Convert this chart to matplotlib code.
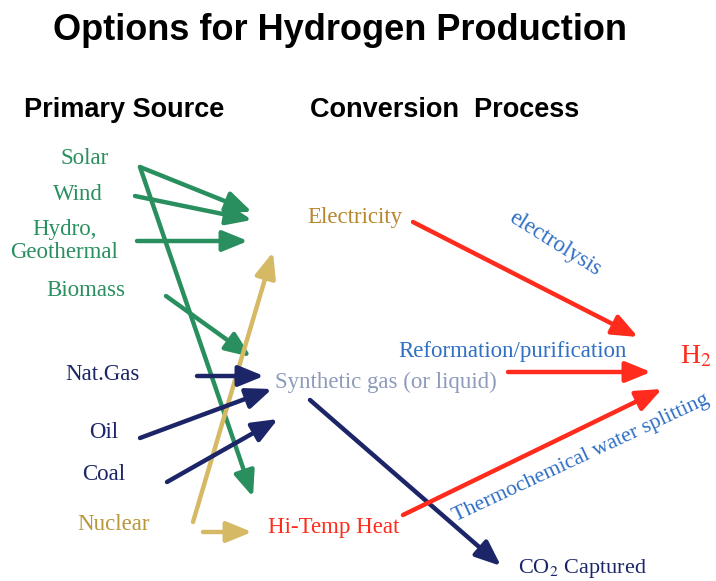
import matplotlib
matplotlib.use("Agg")
import matplotlib.pyplot as plt

plt.rcParams['mathtext.fontset'] = 'stix'

# colours
GREEN = '#2a8f5e'
NAVY = '#1c2568'
GOLD = '#d6b964'
RED = '#ff2b1c'
BLUE = '#2f6fc4'

# source labels: text, x(right edge), y, colour
source_labels = ['Solar', 'Wind', 'Hydro,\nGeothermal', 'Biomass',
                 'Nat.Gas', 'Oil', 'Coal', 'Nuclear']
source_x = [109, 103, 118, 125, 140, 118, 125, 150]
source_y = [158, 195, 241, 290, 374, 433, 474, 525]
source_col = [GREEN, GREEN, GREEN, GREEN, NAVY, NAVY, NAVY, '#b8963a']

# process / product labels
proc_labels = ['Electricity', 'Synthetic gas (or liquid)', 'Hi-Temp Heat',
               'CO$_2$ Captured', 'H$_2$', 'Reformation/purification']
proc_x = [307, 275, 268, 518, 680, 398]
proc_y = [217, 382, 527, 569, 357, 352]
proc_col = ['#b8862c', '#8d9bbb', RED, NAVY, RED, BLUE]
proc_size = [16.5, 16.5, 16.5, 16, 20, 16.5]

# arrows: start (x, y) -> end (x, y), colour
arrow_start = [(140, 167), (135, 196), (137, 241), (140, 167), (166, 296),
               (193, 522), (203, 532),
               (197, 376), (140, 438), (167, 482), (310, 400),
               (413, 222), (508, 372), (403, 515)]
arrow_end = [(252, 212), (252, 220), (248, 241), (253, 497), (251, 357),
             (273, 252), (252, 532),
             (264, 376), (272, 389), (278, 419), (501, 566),
             (638, 337), (651, 372), (662, 389)]
arrow_col = [GREEN] * 5 + [GOLD] * 2 + [NAVY] * 4 + [RED] * 3

fig = plt.figure(figsize=(7.16, 5.81), dpi=100)
ax = fig.add_axes([0, 0, 1, 1])
ax.set_xlim(0, 716)
ax.set_ylim(581, 0)
ax.axis('off')

ax.text(340, 30, 'Options for Hydrogen Production', ha='center', va='center',
        fontsize=26, fontweight='bold', family='Liberation Sans')
ax.text(24, 110, 'Primary Source', ha='left', va='center',
        fontsize=19.5, fontweight='bold', family='Liberation Sans')
ax.text(310, 110, 'Conversion  Process', ha='left', va='center',
        fontsize=19.5, fontweight='bold', family='Liberation Sans')

for s, e, c in zip(arrow_start, arrow_end, arrow_col):
    ax.annotate('', xy=e, xytext=s,
                arrowprops=dict(arrowstyle='-|>,head_length=1.1,head_width=0.45',
                                color=c, lw=3.2, shrinkA=0, shrinkB=0,
                                mutation_scale=14))

for t, x, y, c in zip(source_labels, source_x, source_y, source_col):
    ax.text(x, y, t, ha='right', va='center', color=c, fontsize=16.5,
            family='Liberation Serif', multialignment='center', linespacing=1.1)

for t, x, y, c, fs in zip(proc_labels, proc_x, proc_y, proc_col, proc_size):
    ax.text(x, y, t, ha='left', va='center', color=c, fontsize=fs,
            family='Liberation Serif')

ax.text(555, 244, 'electrolysis', ha='center', va='center', color=BLUE,
        fontsize=16.5, family='Liberation Serif', rotation=-32,
        rotation_mode='anchor')
ax.text(581, 458, 'Thermochemical water splitting', ha='center', va='center',
        color=BLUE, fontsize=15.8, family='Liberation Serif', rotation=25,
        rotation_mode='anchor')

fig.savefig('out.png', dpi=100)
